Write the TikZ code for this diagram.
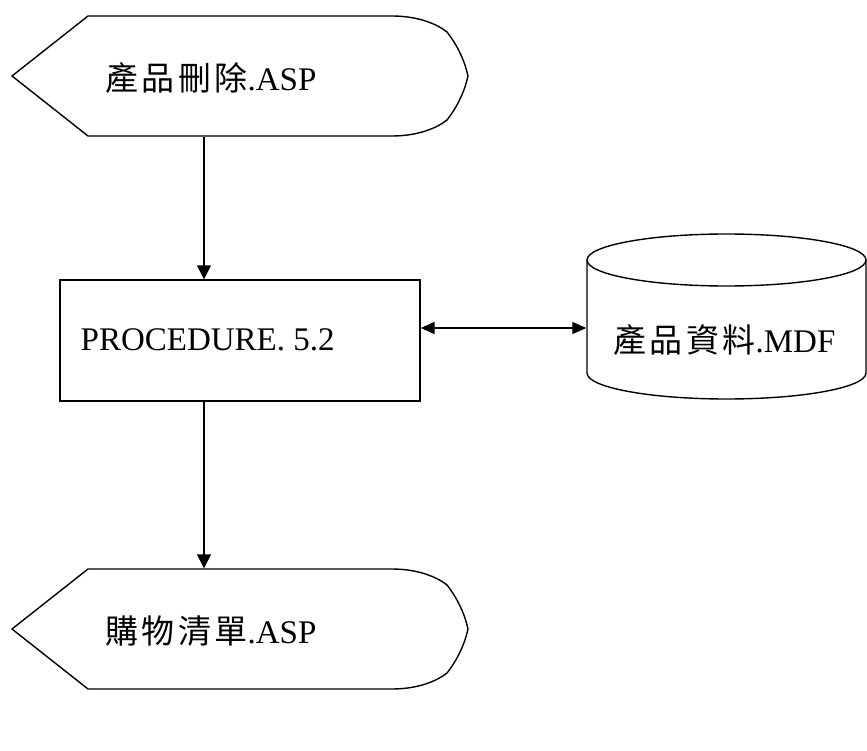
\documentclass[tikz,border=0pt]{standalone}
\usepackage{fontspec}
\setmainfont{Liberation Serif}
\newfontfamily\cjk[LetterSpace=10]{Noto Sans CJK TC}
\usetikzlibrary{arrows.meta,calc}
\begin{document}
\begin{tikzpicture}[x=1pt,y=-1pt,
  line width=1.4pt,
  lbl/.style={anchor=west,inner sep=0pt,font=\fontsize{33}{40}\selectfont},
  arr/.style={-{Triangle[length=14pt,width=14pt]}},
  darr/.style={{Triangle[length=14pt,width=12pt]}-{Triangle[length=14pt,width=12pt]}}]
\useasboundingbox (0,0) rectangle (867,751);
% top display shape
\draw (12,76) -- (88,16) -- (392,16) .. controls (418,16) and (437,24) .. (447,32)
  .. controls (458,46) and (465,62) .. (468,76)
  .. controls (465,90) and (458,106) .. (447,120)
  .. controls (437,128) and (418,136) .. (392,136) -- (88,136) -- cycle;
\node[draw=none,minimum width=456pt,minimum height=120pt,inner sep=0pt] (top) at (240,76) {};
\node[lbl] (toptext) at (105,78) {{\cjk 產品刪除}.ASP};
% process box
\node[draw,minimum width=360pt,minimum height=121pt,inner sep=0pt] (proc) at (240,340.5) {};
\node[lbl] (proctext) at (80,340) {PROCEDURE. 5.2};
% database cylinder
\draw (587,260) -- (587,373) arc[start angle=180,end angle=0,x radius=139.5,y radius=26] -- (866,260);
\draw (726.5,260) ellipse[x radius=139.5,y radius=26];
\node[draw=none,minimum width=279pt,minimum height=165pt,inner sep=0pt] (db) at (726.5,316.5) {};
\node[lbl] (dbtext) at (613,340) {{\cjk 產品資料}.MDF};
% bottom display shape
\draw (12,629) -- (88,569) -- (392,569) .. controls (418,569) and (437,577) .. (447,585)
  .. controls (458,599) and (465,615) .. (468,629)
  .. controls (465,643) and (458,659) .. (447,673)
  .. controls (437,681) and (418,689) .. (392,689) -- (88,689) -- cycle;
\node[draw=none,minimum width=456pt,minimum height=120pt,inner sep=0pt] (bot) at (240,629) {};
\node[lbl] (bottext) at (105,631) {{\cjk 購物清單}.ASP};
% connectors
\coordinate (ax) at (204,0);
\coordinate (ay) at (0,328);
\draw[arr] (top.south -| ax) -- (proc.north -| ax);
\draw[arr] (proc.south -| ax) -- (bot.north -| ax);
\draw[darr] (proc.east |- ay) -- (db.west |- ay);
\end{tikzpicture}
\end{document}
